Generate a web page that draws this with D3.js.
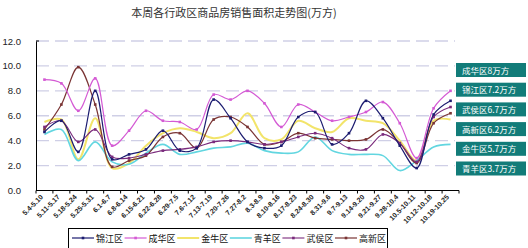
<!DOCTYPE html>
<html>
<head>
<meta charset="utf-8">
<script src="https://cdn.jsdelivr.net/npm/d3@7"></script>
<style>
  body { margin: 0; background: #fff; }
  svg { display: block; font-family: "Noto Sans CJK SC", "Liberation Sans", sans-serif; }
</style>
</head>
<body>
<div id="chart"></div>
<script>
// weeks (x axis)
const weeks = ["5.4-5.10", "5.11-5.17", "5.18-5.24", "5.25-5.31", "6.1-6.7", "6.8-6.14", "6.15-6.21",
  "6.22-6.28", "6.29-7.5", "7.6-7.12", "7.13-7.19", "7.20-7.26", "7.27-8.2", "8.3-8.9", "8.10-8.16",
  "8.17-8.23", "8.24-8.30", "8.31-9.6", "9.7-9.13", "9.14-9.20", "9.21-9.27", "9.28-10.4",
  "10.5-10.11", "10.12-10.18", "10.19-10.25"];

const districts = ["锦江区", "成华区", "金牛区", "青羊区", "武侯区", "高新区"];

const jinjiang = [4.7, 5.6, 3.1, 8.0, 2.5, 2.9, 3.3, 4.8, 3.2, 3.4, 7.3, 5.8, 3.9, 3.4, 3.6, 5.9, 6.3, 3.7, 4.6, 7.2, 5.8, 3.6, 1.8, 6.1, 7.2];
const chenghua = [8.9, 8.6, 6.4, 9.0, 3.6, 4.8, 6.4, 5.6, 5.5, 4.9, 7.7, 7.3, 8.0, 7.0, 5.1, 6.9, 6.3, 5.6, 5.9, 6.3, 7.1, 5.4, 2.6, 6.6, 8.0];
const jinniu = [5.5, 5.7, 2.5, 5.8, 1.8, 2.2, 3.6, 4.6, 5.0, 4.7, 4.2, 4.6, 6.2, 4.2, 4.1, 5.6, 5.0, 4.7, 5.8, 5.6, 5.4, 4.0, 2.4, 5.6, 5.7];
const qingyang = [4.5, 4.9, 2.4, 3.9, 2.3, 2.1, 3.0, 3.7, 2.9, 3.1, 3.4, 3.5, 3.8, 3.2, 3.0, 3.1, 4.3, 3.2, 2.9, 2.9, 2.8, 1.6, 2.4, 3.5, 3.7];
const wuhou = [5.1, 5.6, 3.9, 4.9, 2.7, 2.6, 2.9, 3.2, 3.3, 3.5, 3.9, 4.0, 3.9, 3.7, 3.9, 4.3, 4.6, 4.2, 3.4, 3.3, 4.5, 3.8, 2.3, 5.9, 6.7];
const gaoxin = [4.9, 6.9, 9.9, 6.9, 1.9, 2.4, 2.8, 4.3, 4.6, 3.4, 5.7, 5.9, 5.1, 3.7, 3.9, 4.6, 4.2, 4.1, 4.0, 4.1, 4.9, 3.8, 2.2, 5.4, 6.2];

const yTicks = [0, 2, 4, 6, 8, 10, 12];

// labels on the right, top to bottom
const sideLabels = ["成华区8万方", "锦江区7.2万方", "武侯区6.7万方", "高新区6.2万方", "金牛区5.7万方", "青羊区3.7万方"];

const series = [
  { name: districts[0], values: jinjiang, color: "#1c1c70", width: 1.2, marker: true },
  { name: districts[1], values: chenghua, color: "#d45ad4", width: 1.2, marker: true },
  { name: districts[2], values: jinniu,   color: "#f2e46a", width: 2,   marker: false },
  { name: districts[3], values: qingyang, color: "#62d6e0", width: 1.6, marker: false },
  { name: districts[4], values: wuhou,    color: "#7a2a7c", width: 1.1, marker: true },
  { name: districts[5], values: gaoxin,   color: "#7a3434", width: 1.2, marker: true }
];

const width = 528, height = 248;
const plotLeft = 36, plotRight = 459, plotTop = 41, plotBottom = 190.5;

const svg = d3.select("#chart").append("svg")
  .attr("width", width)
  .attr("height", height);

const x = d3.scalePoint().domain(weeks).range([plotLeft, plotRight]).padding(0.5);
const y = d3.scaleLinear().domain([0, 12]).range([plotBottom, plotTop]);
const step = x.step();

// title
svg.append("text")
  .attr("x", 234).attr("y", 17)
  .attr("text-anchor", "middle")
  .attr("font-size", 11)
  .attr("fill", "#333")
  .text("本周各行政区商品房销售面积走势图(万方)");

// grid
svg.append("g").selectAll("line")
  .data(yTicks.filter(d => d > 0))
  .join("line")
  .attr("x1", plotLeft).attr("x2", 455)
  .attr("y1", d => y(d)).attr("y2", d => y(d))
  .attr("stroke", "#cfcfe6")
  .attr("stroke-width", 1.4)
  .attr("stroke-dasharray", "13,6");

// y axis
const yAxis = svg.append("g")
  .attr("transform", "translate(" + plotLeft + ",0)")
  .call(d3.axisLeft(y).tickValues(yTicks).tickFormat(d3.format(".1f")).tickSize(0).tickPadding(15));
yAxis.select(".domain").attr("stroke", "#000");
yAxis.selectAll("text").attr("font-size", 9.5).attr("fill", "#222")
  .attr("font-family", "Liberation Sans, Arial, sans-serif");
svg.append("line").attr("x1", plotLeft).attr("x2", plotLeft + 3).attr("y1", plotTop).attr("y2", plotTop).attr("stroke", "#000");

// x axis
svg.append("line")
  .attr("x1", plotLeft).attr("x2", plotRight)
  .attr("y1", plotBottom).attr("y2", plotBottom)
  .attr("stroke", "#000");
svg.append("g").selectAll("line")
  .data(d3.range(weeks.length + 1))
  .join("line")
  .attr("x1", i => plotLeft + i * step).attr("x2", i => plotLeft + i * step)
  .attr("y1", plotBottom).attr("y2", plotBottom + 3)
  .attr("stroke", "#000");

svg.append("g").selectAll("text")
  .data(weeks)
  .join("text")
  .attr("transform", d => "translate(" + (x(d) - 1) + "," + (plotBottom + 7) + ") rotate(-45)")
  .attr("text-anchor", "end")
  .attr("font-size", 7)
  .attr("font-weight", "bold")
  .attr("fill", "#222")
  .attr("font-family", "Liberation Sans, Arial, sans-serif")
  .text(d => d);

// lines
const line = d3.line()
  .x((d, i) => x(weeks[i]))
  .y(d => y(d))
  .curve(d3.curveCatmullRom.alpha(0.5));

const drawOrder = [2, 3, 5, 4, 1, 0];
drawOrder.forEach(k => {
  const s = series[k];
  svg.append("path")
    .datum(s.values)
    .attr("d", line)
    .attr("fill", "none")
    .attr("stroke", s.color)
    .attr("stroke-width", s.width);
  if (s.marker) {
    svg.append("g").selectAll("rect")
      .data(s.values)
      .join("rect")
      .attr("x", (d, i) => x(weeks[i]) - 1.3)
      .attr("y", d => y(d) - 1.3)
      .attr("width", 2.6).attr("height", 2.6)
      .attr("fill", s.color);
  }
});

// legend
const legend = svg.append("g");
legend.append("rect")
  .attr("x", 68.5).attr("y", 228.5)
  .attr("width", 319).attr("height", 21)
  .attr("fill", "#fff").attr("stroke", "#000");
series.forEach((s, k) => {
  const lx = 72 + k * 52.6;
  legend.append("line")
    .attr("x1", lx).attr("x2", lx + 22)
    .attr("y1", 238).attr("y2", 238)
    .attr("stroke", s.color).attr("stroke-width", s.width);
  if (s.marker) {
    legend.append("rect")
      .attr("x", lx + 11 - 1.3).attr("y", 238 - 1.3)
      .attr("width", 2.6).attr("height", 2.6)
      .attr("fill", s.color);
  }
  legend.append("text")
    .attr("x", lx + 24).attr("y", 241.5)
    .attr("font-size", 9)
    .attr("fill", "#111")
    .text(s.name);
});

// side labels
const side = svg.append("g");
sideLabels.forEach((t, k) => {
  const by = 63 + k * 19.7;
  side.append("rect")
    .attr("x", 456).attr("y", by)
    .attr("width", 70).attr("height", 14)
    .attr("fill", "#127c79");
  side.append("text")
    .attr("x", 462).attr("y", by + 10.5)
    .attr("font-size", 8.5)
    .attr("fill", "#fff")
    .text(t);
});
</script>
</body>
</html>
